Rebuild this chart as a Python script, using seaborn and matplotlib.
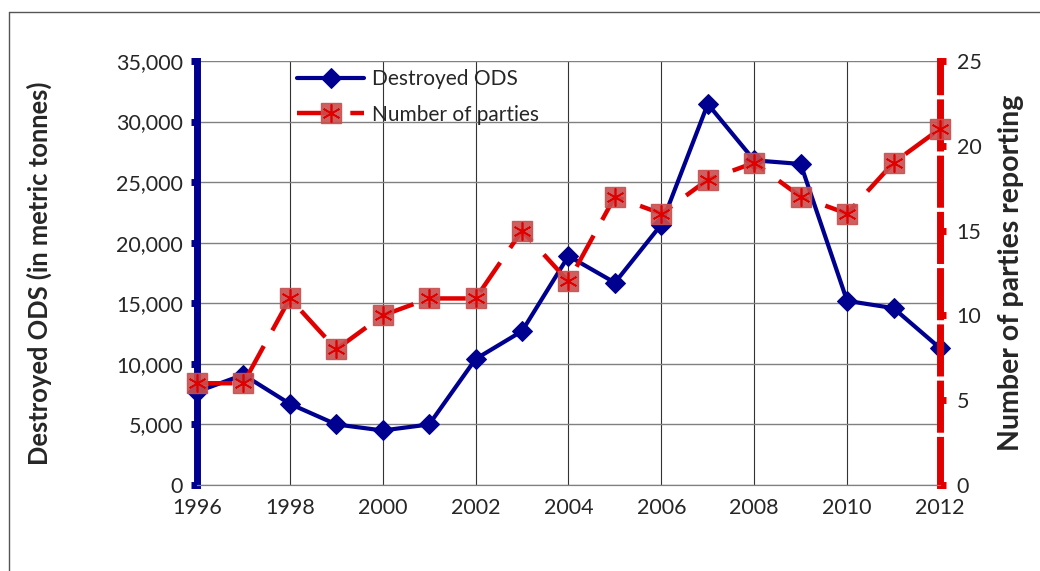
import pandas as pd
import seaborn as sns
import matplotlib.pyplot as plt
from matplotlib.lines import Line2D
from matplotlib.legend_handler import HandlerTuple

# Données
years = list(range(1996, 2013))
destroyed_ods = [7700, 9100, 6700, 5000, 4500, 5000, 10400, 12700, 18900,
                 16700, 21500, 31450, 26800, 26500, 15200, 14600, 11300]
parties = [6, 6, 11, 8, 10, 11, 11, 15, 12, 17, 16, 18, 19, 17, 16, 19, 21]

x_ticks = list(range(1996, 2013, 2))
left_ticks = list(range(0, 35001, 5000))
right_ticks = list(range(0, 26, 5))

data = pd.DataFrame({"year": years, "ods": destroyed_ods, "parties": parties})

blue = "#000090"
red = "#e00000"

sns.set_style("white")
plt.rcParams["font.family"] = ["Lato", "DejaVu Sans"]

fig = plt.figure(figsize=(10.4, 5.71), dpi=100)
ax = fig.add_axes([0.1894, 0.1506, 0.7144, 0.7426])
ax2 = ax.twinx()

# Courbe bleue : ODS détruites
sns.lineplot(data=data, x="year", y="ods", ax=ax, color=blue, lw=3,
             marker="D", markersize=10.5, markeredgecolor=blue, clip_on=False,
             zorder=5)

# Courbe rouge : nombre de parties
sns.lineplot(data=data, x="year", y="parties", ax=ax2, color=red, lw=3.2,
             dashes=False, clip_on=False, zorder=5)
ax2.lines[0].set_dashes([8, 4])
sq, = ax2.plot(data["year"], data["parties"], ls="none", marker="s",
               markersize=14, markerfacecolor="#c85050", markeredgecolor="#c85050",
               alpha=0.9, clip_on=False, zorder=6)
st, = ax2.plot(data["year"], data["parties"], ls="none", marker=(6, 2, 0),
               markersize=13, markeredgecolor=red, markeredgewidth=1.2,
               clip_on=False, zorder=7)

ax.set_xlim(1996, 2012)
ax.set_ylim(0, 35000)
ax2.set_ylim(0, 25)
ax.set_xticks(x_ticks)
ax.set_yticks(left_ticks)
ax.set_yticklabels([f"{v:,}" for v in left_ticks])
ax2.set_yticks(right_ticks)

ax.grid(True, axis="y", color="#808080", lw=1)
ax.grid(True, axis="x", color="#333333", lw=0.8)
ax.set_axisbelow(True)

# Axes façon Excel
for a in (ax, ax2):
    a.spines["top"].set_visible(False)
    a.spines["bottom"].set_color("#808080")
ax.spines["right"].set_visible(False)
ax2.spines["left"].set_visible(False)
ax.spines["left"].set_color(blue)
ax.spines["left"].set_linewidth(5)
ax2.spines["right"].set_color(red)
ax2.spines["right"].set_linewidth(5)
ax2.spines["right"].set_linestyle((0, (6.5, 1.6)))

ax.tick_params(axis="y", direction="out", length=4, width=5, color=blue,
               labelsize=15.5, pad=6)
ax2.tick_params(axis="y", direction="out", length=4, width=5, color=red,
                labelsize=15.5, pad=8)
ax.tick_params(axis="x", direction="out", length=5, width=1, color="#808080",
               labelsize=15.5, pad=4)

ax.set_xlabel("")
ax.set_ylabel("Destroyed ODS (in metric tonnes)", fontsize=18.4,
              fontweight="bold")
ax2.set_ylabel("Number of parties reporting", fontsize=20.5,
               fontweight="bold")
ax.yaxis.set_label_coords(-0.195, 0.5)
ax2.yaxis.set_label_coords(1.078, 0.5)

handles = [ax.lines[0], (ax2.lines[0], sq, st)]
ax2.legend(handles, ["Destroyed ODS", "Number of parties"],
           handler_map={tuple: HandlerTuple(ndivide=1)},
           loc="upper left", bbox_to_anchor=(0.11, 1.025), frameon=False,
           fontsize=15, handlelength=3.2, handletextpad=0.4, labelspacing=0.75)

# Cadre extérieur (bords gauche et haut)
fig.lines.append(Line2D([0.0087, 0.0087], [0.0, 0.979], transform=fig.transFigure,
                        color="#555555", lw=1))
fig.lines.append(Line2D([0.0087, 1.0], [0.979, 0.979], transform=fig.transFigure,
                        color="#555555", lw=1))

fig.savefig("out.png", dpi=100)
